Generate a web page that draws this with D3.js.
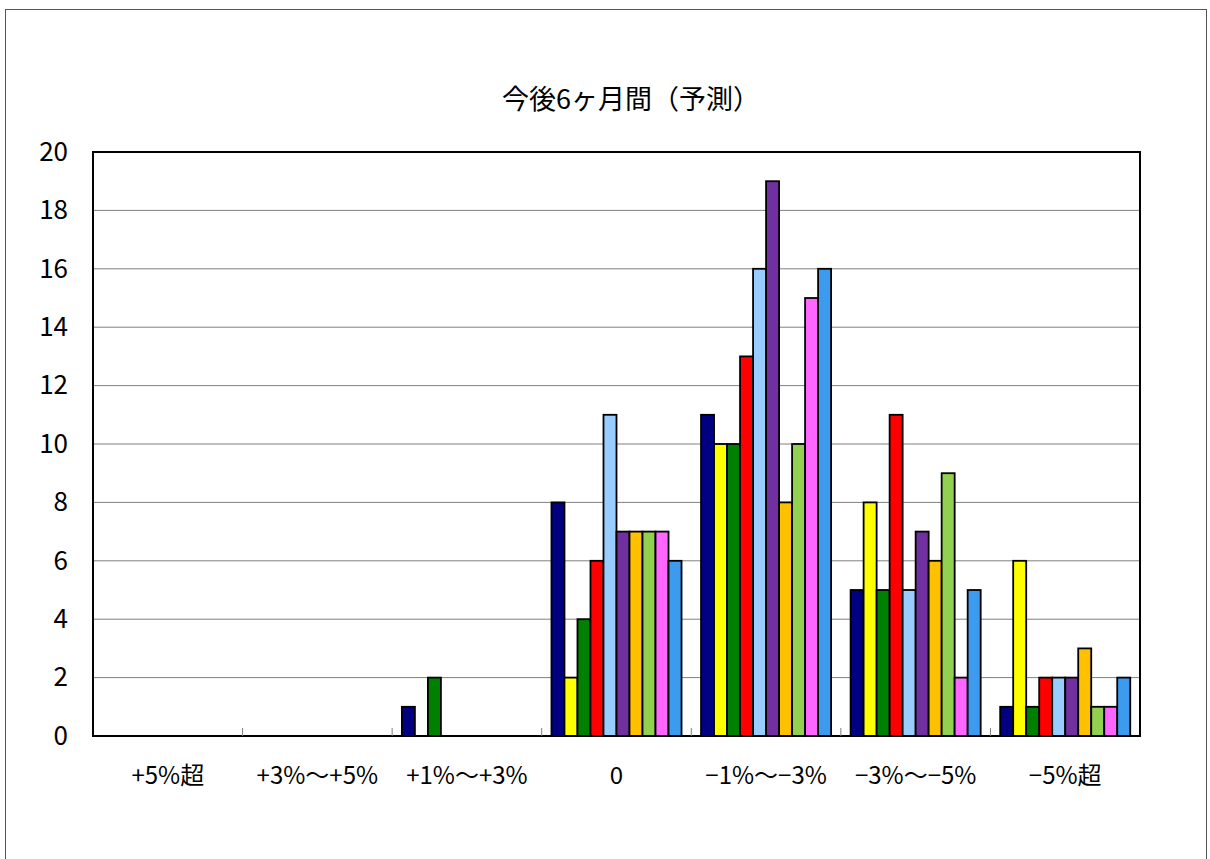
<!DOCTYPE html>
<html><head><meta charset="utf-8">
<script src="https://cdn.jsdelivr.net/npm/d3@7"></script>
<style>html,body{margin:0;padding:0;background:#fff;}svg{display:block;}</style>
</head><body>
<svg id="c" width="1210" height="859"></svg>
<script>
const categories = ["+5%超", "+3%〜+5%", "+1%〜+3%", "0", "−1%〜−3%", "−3%〜−5%", "−5%超"];
const yTicks = [0, 2, 4, 6, 8, 10, 12, 14, 16, 18, 20];
const series1 = [0, 0, 1, 8, 11, 5, 1];
const series2 = [0, 0, 0, 2, 10, 8, 6];
const series3 = [0, 0, 2, 4, 10, 5, 1];
const series4 = [0, 0, 0, 6, 13, 11, 2];
const series5 = [0, 0, 0, 11, 16, 5, 2];
const series6 = [0, 0, 0, 7, 19, 7, 2];
const series7 = [0, 0, 0, 7, 8, 6, 3];
const series8 = [0, 0, 0, 7, 10, 9, 1];
const series9 = [0, 0, 0, 7, 15, 2, 1];
const series10 = [0, 0, 0, 6, 16, 5, 2];
const seriesNames = ["系列1","系列2","系列3","系列4","系列5","系列6","系列7","系列8","系列9","系列10"];
const seriesValues = [series1, series2, series3, series4, series5, series6, series7, series8, series9, series10];
const colors = ["#000080","#FFFF00","#008000","#FF0000","#99CCFF","#7030A0","#FFC000","#92D050","#FF66FF","#3D9BEF"];
const title = "今後6ヶ月間（予測）";

const svg = d3.select("#c");
const font = "'Noto Sans CJK JP', 'Noto Sans', sans-serif";
const L = 93, R = 1140, T = 152, B = 736;

svg.append("rect").attr("x", 5.5).attr("y", 9.5).attr("width", 1201).attr("height", 870)
  .attr("fill", "#fff").attr("stroke", "#555").attr("stroke-width", 1);

const x0 = d3.scaleBand().domain(categories).range([L, R]).padding(0);
const x1 = d3.scaleBand().domain(seriesNames).range([0, x0.bandwidth()]).paddingInner(0).paddingOuter(0.75);
const y = d3.scaleLinear().domain([0, 20]).range([B, T]);

// gridlines
svg.append("g").selectAll("line").data(yTicks.filter(d => d > 0 && d < 20)).join("line")
  .attr("x1", L).attr("x2", R).attr("y1", d => y(d)).attr("y2", d => y(d))
  .attr("stroke", "#808080").attr("stroke-width", 1);

// bars
const groups = svg.append("g").selectAll("g").data(categories).join("g")
  .attr("transform", d => `translate(${x0(d)},0)`);
groups.selectAll("rect").data((c, ci) => seriesNames.map((s, si) => ({s, si, v: seriesValues[si][ci]})).filter(d => d.v > 0))
  .join("rect")
  .attr("x", d => x1(d.s)).attr("width", x1.bandwidth())
  .attr("y", d => y(d.v)).attr("height", d => y(0) - y(d.v))
  .attr("fill", d => colors[d.si]).attr("stroke", "#000").attr("stroke-width", 1.8);

// plot border
svg.append("rect").attr("x", L).attr("y", T).attr("width", R - L).attr("height", B - T)
  .attr("fill", "none").attr("stroke", "#000").attr("stroke-width", 2);

// x axis with inner ticks at category boundaries
const xAxis = svg.append("g").attr("transform", `translate(0,${B})`);
xAxis.selectAll("line").data(categories.slice(1)).join("line")
  .attr("x1", d => x0(d)).attr("x2", d => x0(d)).attr("y1", 0).attr("y2", -8)
  .attr("stroke", "#808080").attr("stroke-width", 1);
xAxis.selectAll("text").data(categories).join("text")
  .attr("x", d => x0(d) + x0.bandwidth() / 2).attr("y", 48)
  .attr("text-anchor", "middle").attr("font-family", font).attr("font-size", 24).attr("fill", "#000")
  .text(d => d);

// y axis labels
const yAxis = d3.axisLeft(y).tickValues(yTicks).tickSize(0).tickPadding(25);
const ya = svg.append("g").attr("transform", `translate(${L},0)`).call(yAxis);
ya.select(".domain").remove();
ya.selectAll("text").attr("font-family", font).attr("font-size", 26).attr("fill", "#000");

// title
svg.append("text").attr("x", 631).attr("y", 109).attr("text-anchor", "middle")
  .attr("font-family", font).attr("font-size", 27).attr("fill", "#000").text(title);
</script>
</body></html>
